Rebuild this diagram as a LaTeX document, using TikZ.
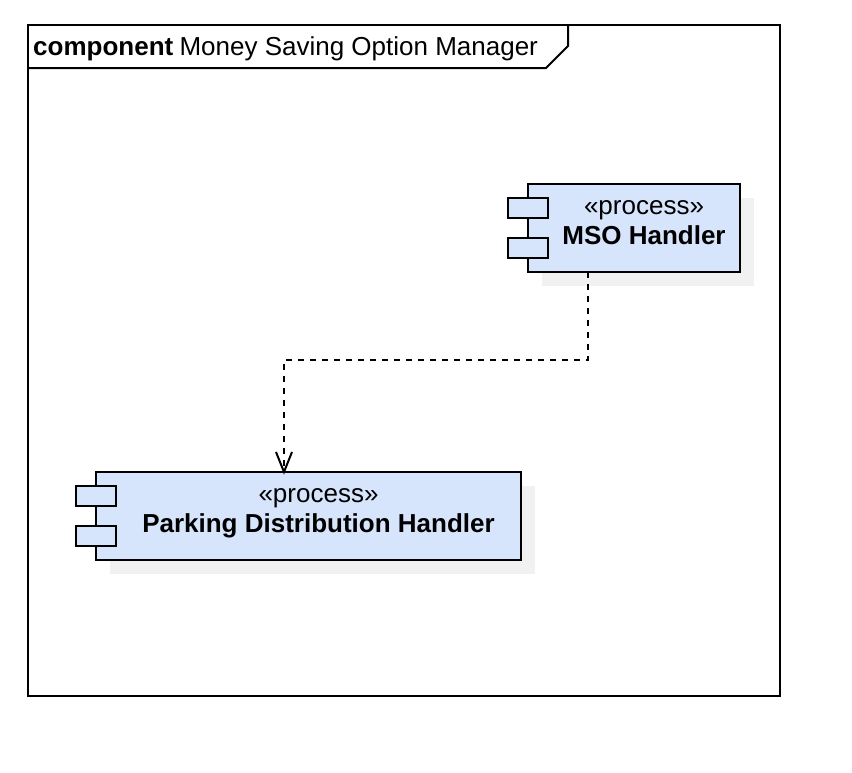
\documentclass[tikz,border=0pt]{standalone}
\usepackage{fontspec}
\setmainfont{Liberation Sans}
\tikzset{
  x=1pt,y=-1pt,
  line/.style={draw=black,line width=2pt},
  body/.style={line,fill=boxblue,minimum height=88pt,inner sep=0pt,outer sep=0pt,anchor=north west},
  port/.style={line,fill=boxblue,minimum width=40.5pt,minimum height=20pt,inner sep=0pt,outer sep=0pt,anchor=north west},
  shade/.style={fill=shadowgray,draw=none,minimum height=88pt,inner sep=0pt,outer sep=0pt,anchor=north west},
  stereo/.style={font=\fontsize{26}{30}\selectfont,inner sep=0pt,anchor=base},
  boxname/.style={font=\fontsize{26}{30}\selectfont\bfseries,inner sep=0pt,anchor=base},
  dep/.style={draw=black,line width=2pt,dash pattern=on 6pt off 6pt}
}
\definecolor{boxblue}{HTML}{D6E4FC}
\definecolor{shadowgray}{HTML}{F1F1F1}
\begin{document}
\begin{tikzpicture}
\useasboundingbox (0,0) rectangle (852,772);
% frame
\node[line,fill=white,minimum width=752pt,minimum height=671pt,inner sep=0pt,outer sep=0pt,anchor=north west] (frame) at (28,25) {};
\coordinate (tabA) at (28,68);
\coordinate (tabB) at (546,68);
\coordinate (tabC) at (568,46);
\coordinate (tabD) at (568,25);
\draw[line,line join=miter] (tabA) -- (tabB) -- (tabC) -- (tabD);
\node[inner sep=0pt,anchor=base west,font=\fontsize{26}{30}\selectfont] (title) at (33,55) {\textbf{component}\hspace{-1pt} Money Saving Option Manager};
% shadows
\node[shade,minimum width=212pt] (msoshade) at (542,198) {};
\node[shade,minimum width=425pt] (pkshade) at (110,486) {};
% MSO Handler
\node[body,minimum width=212pt] (mso) at (528,184) {};
\node[port] (msoa) at (507.5,198) {};
\node[port] (msob) at (507.5,238) {};
\node[stereo] (msostereo) at (644,214) {«process»};
\node[boxname] (msoname) at (644,244) {MSO Handler};
% Parking Distribution Handler
\node[body,minimum width=424.5pt] (pk) at (96,472) {};
\node[port] (pka) at (75.5,486) {};
\node[port] (pkb) at (75.5,526) {};
\node[stereo] (pkstereo) at (318.5,502) {«process»};
\node[boxname] (pkname) at (318.5,532) {Parking Distribution Handler};
% dependency
\coordinate (start) at ([xshift=-46pt]mso.south);
\coordinate (tip) at ([xshift=-24.25pt]pk.north);
\coordinate (bend) at (start |- 0,360);
\draw[dep] (start) -- (bend) -- (bend -| tip) -- (tip);
\draw[line width=2pt,line join=miter] ([shift={(-8,-20)}]tip) -- (tip) -- ([shift={(8,-20)}]tip);
\end{tikzpicture}
\end{document}
